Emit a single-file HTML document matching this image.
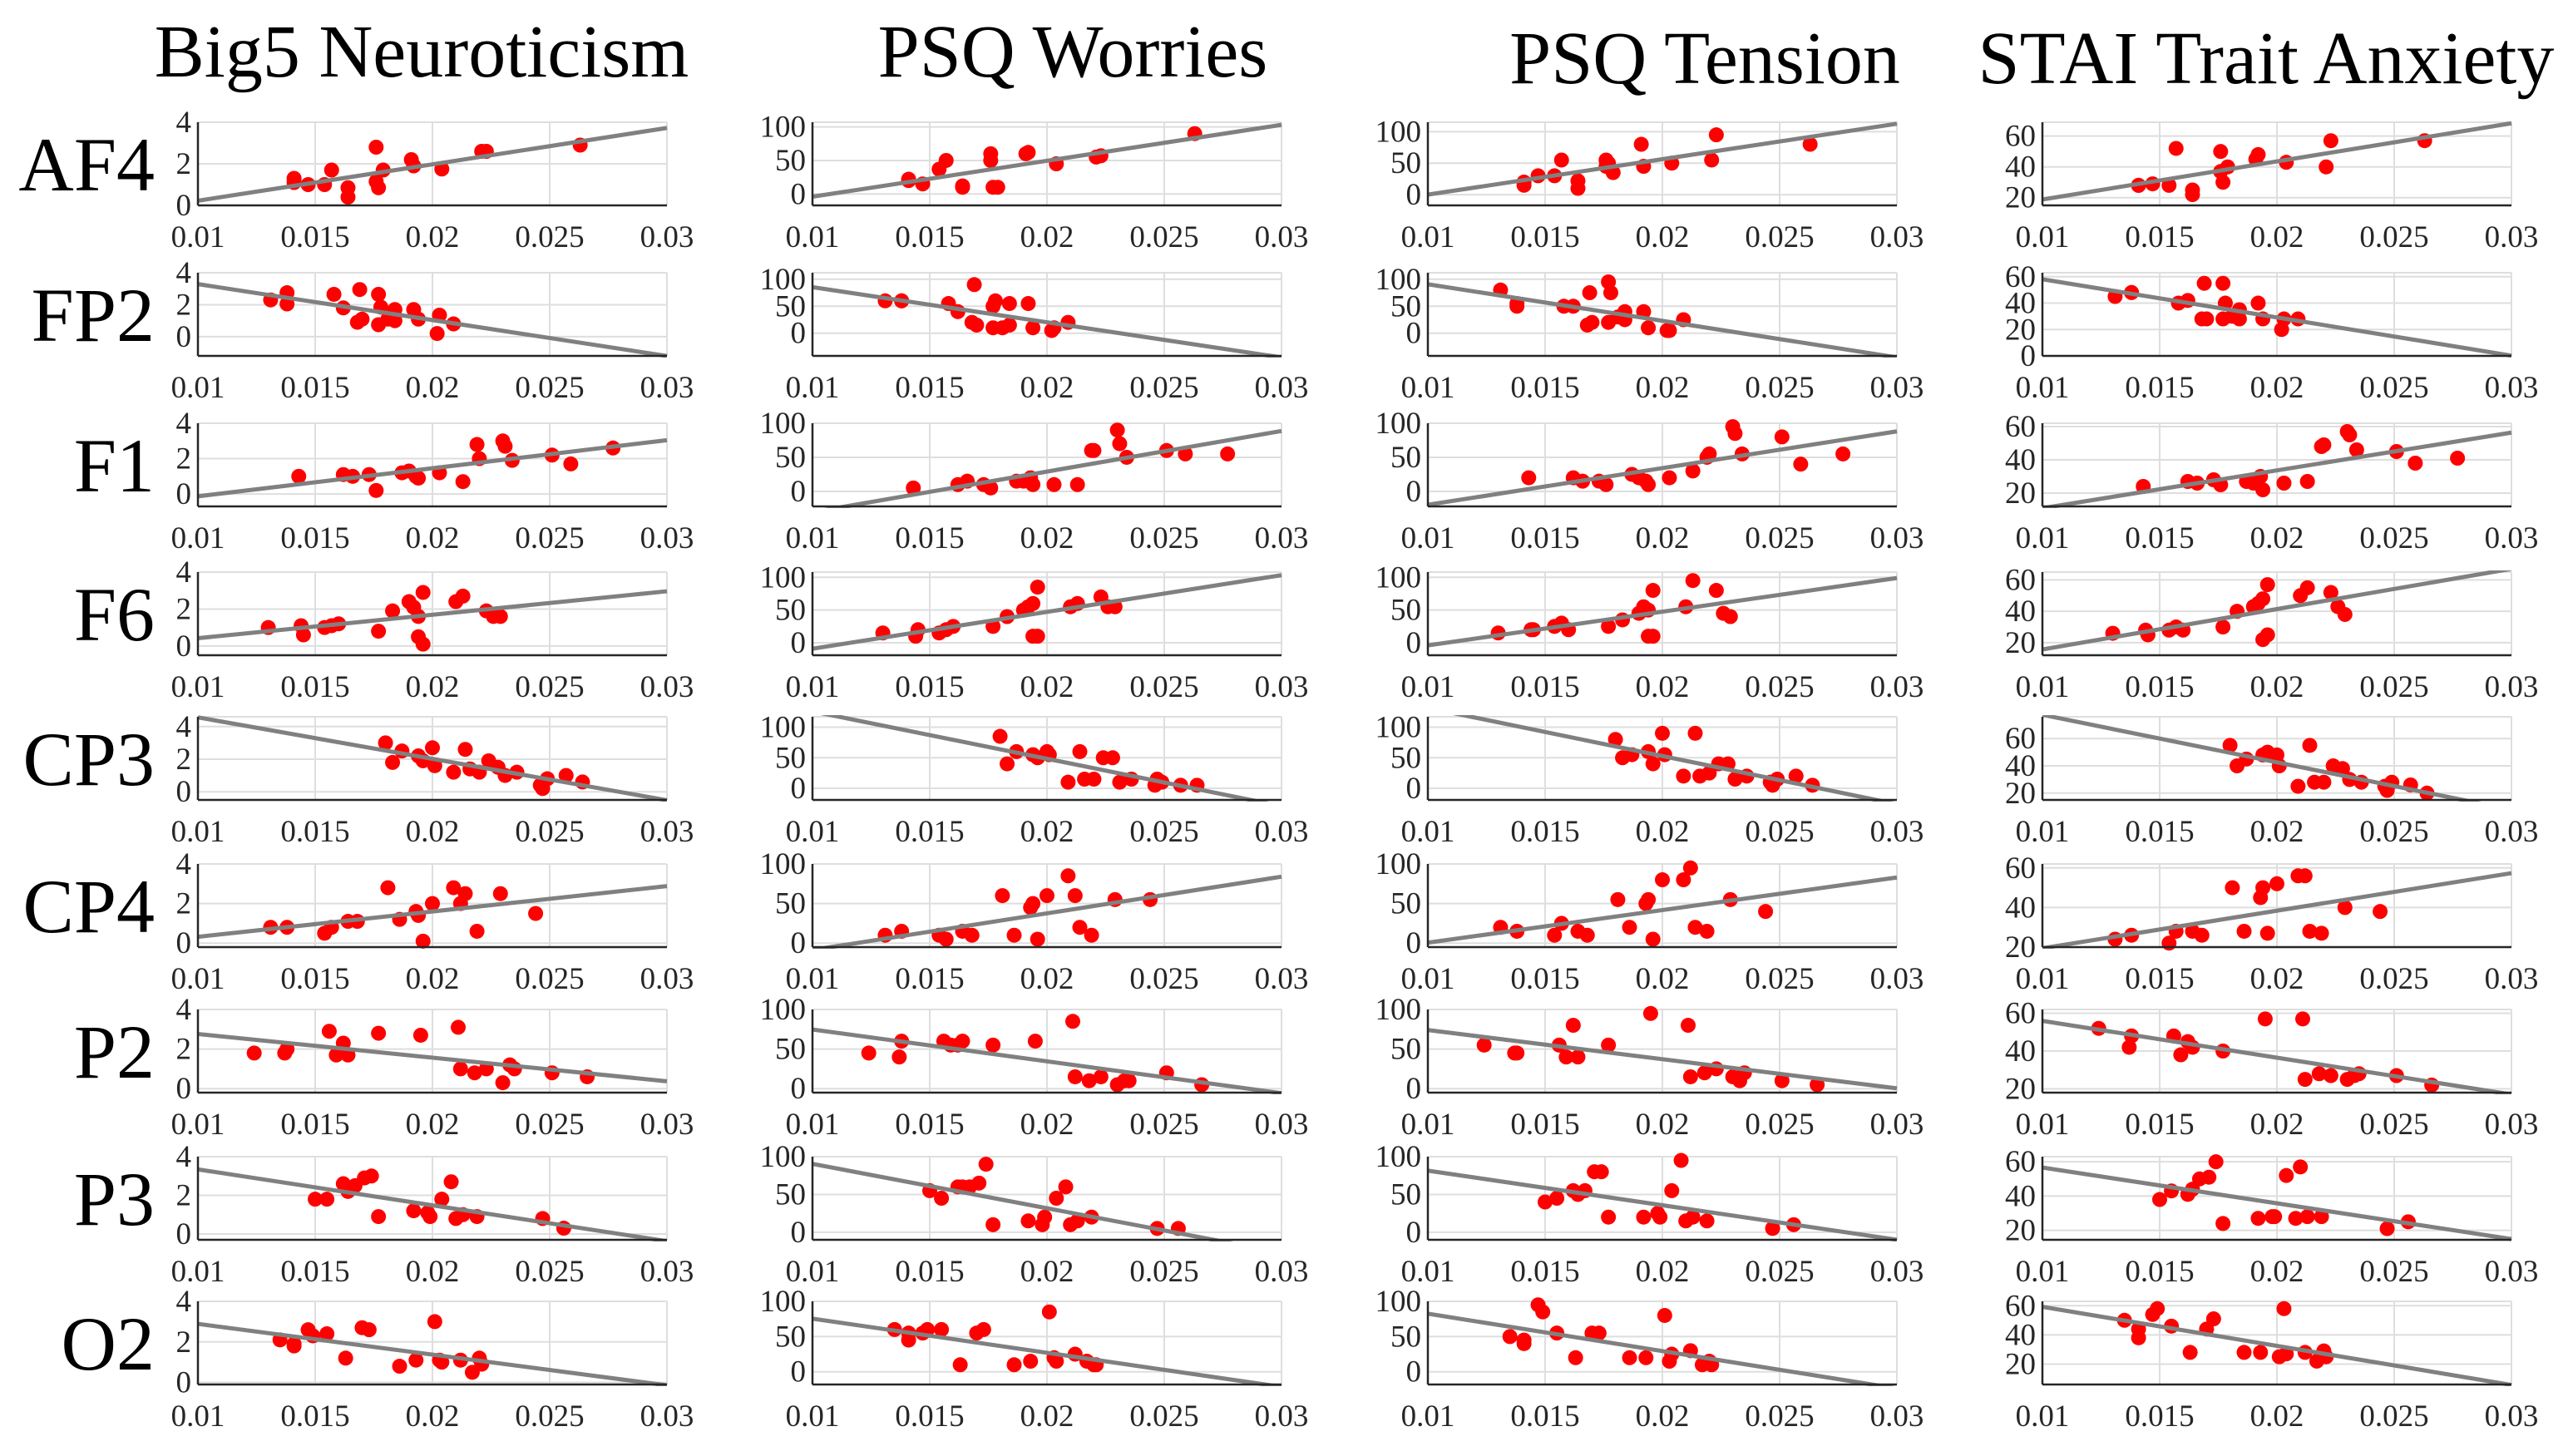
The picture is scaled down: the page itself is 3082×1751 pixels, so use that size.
<!DOCTYPE html>
<html><head><meta charset="utf-8">
<style>
html,body{margin:0;padding:0;background:#fff;}
svg{display:block;font-family:"Liberation Serif",serif;}
</style></head>
<body>
<svg id="fig" width="3082" height="1751" viewBox="0 0 3082 1751" xmlns="http://www.w3.org/2000/svg"></svg>
<script>
// ---- data ----
const colTitles = ["Big5 Neuroticism","PSQ Worries","PSQ Tension","STAI Trait Anxiety"];
const rowNames = ["AF4","FP2","F1","F6","CP3","CP4","P2","P3","O2"];
const xTicks = [0.01,0.015,0.02,0.025,0.03];
const xTickLabels = ["0.01","0.015","0.02","0.025","0.03"];

const xAF4 = [.0141,.0141,.0147,.0157,.0154,.0164,.0164,.0176,.0176,.0177,.0179,.0191,.0192,.0204,.0221,.0223,.0263];
const xFP2 = [.0131,.0138,.0138,.0158,.0162,.0169,.0168,.0170,.0177,.0177,.0178,.0181,.0184,.0184,.0192,.0194,.0203,.0202,.0209];
const xF1  = [.0143,.0162,.0166,.0176,.0173,.0187,.0190,.0194,.0193,.0203,.0213,.0219,.0220,.0230,.0231,.0234,.0251,.0259,.0277];
const xF6  = [.0130,.0144,.0145,.0154,.0157,.0160,.0177,.0183,.0190,.0192,.0196,.0194,.0194,.0196,.0210,.0213,.0223,.0226,.0229];
const xCP3 = [.0180,.0183,.0187,.0194,.0196,.0200,.0201,.0209,.0214,.0216,.0220,.0224,.0228,.0231,.0236,.0246,.0247,.0249,.0257,.0264];
const xCP4 = [.0131,.0138,.0154,.0157,.0164,.0168,.0181,.0186,.0193,.0194,.0196,.0200,.0209,.0212,.0214,.0219,.0229,.0244];
const xP2  = [.0124,.0137,.0138,.0156,.0159,.0162,.0164,.0177,.0195,.0211,.0212,.0218,.0223,.0230,.0233,.0235,.0251,.0266];
const xP3  = [.0150,.0155,.0162,.0164,.0167,.0171,.0174,.0177,.0192,.0198,.0199,.0204,.0208,.0210,.0213,.0219,.0247,.0256];
const xO2  = [.0135,.0141,.0141,.0147,.0149,.0155,.0163,.0170,.0173,.0186,.0193,.0201,.0203,.0204,.0212,.0217,.0220,.0221];

const neuro = [
 [1.3,1.1,1.0,1.7,1.0,0.85,0.4,2.8,1.15,0.85,1.7,2.2,1.9,1.75,2.6,2.6,2.9],
 [2.3,2.75,2.05,2.65,1.8,2.95,0.9,1.1,2.65,0.75,1.85,1.1,1.7,1.0,1.7,1.1,1.35,0.2,0.8],
 [1.0,1.1,1.0,0.2,1.1,1.2,1.3,0.9,1.0,1.2,0.7,2.8,2.0,3.0,2.7,1.9,2.2,1.7,2.6],
 [1.0,1.1,0.6,1.0,1.1,1.2,0.8,1.9,2.4,2.1,2.9,1.6,0.5,0.1,2.4,2.7,1.9,1.6,1.6],
 [3.0,1.8,2.5,2.2,1.9,2.7,1.6,1.2,2.6,1.4,1.2,1.9,1.5,1.0,1.2,0.4,0.2,0.8,1.0,0.6],
 [0.8,0.8,0.5,0.8,1.1,1.1,2.8,1.2,1.6,1.4,0.1,2.0,2.8,2.0,2.5,0.6,2.5,1.5],
 [1.8,1.8,2.0,2.9,1.7,2.3,1.7,2.8,2.7,3.1,1.0,0.8,1.0,0.3,1.2,1.0,0.8,0.6],
 [1.8,1.8,2.6,2.2,2.5,2.9,3.0,0.9,1.2,1.1,0.9,1.8,2.7,0.8,1.0,0.9,0.8,0.3],
 [2.1,1.8,1.9,2.6,2.3,2.4,1.2,2.7,2.6,0.8,1.1,3.0,1.1,1.0,1.1,0.5,1.2,0.9]
];
const worries = [
 [20,22,15,50,37,10,12,60,50,10,10,60,62,45,55,57,90],
 [60,60,60,55,40,90,20,15,50,10,60,10,55,15,55,10,10,5,20],
 [5,10,15,5,10,15,15,10,20,10,10,60,60,90,70,50,60,55,55],
 [15,10,20,15,20,25,25,40,50,55,85,60,10,10,55,60,70,55,55],
 [85,40,60,55,50,60,55,10,60,15,15,50,50,10,15,5,15,10,5,5],
 [10,15,10,5,15,10,60,10,45,50,5,60,85,60,20,10,55,55],
 [45,40,60,60,55,55,60,55,60,85,15,10,15,5,10,10,20,5],
 [55,45,60,60,60,65,90,10,15,10,20,45,60,10,15,20,5,5],
 [60,55,45,55,60,60,10,55,60,10,15,85,20,15,25,15,10,10]
];
const tension = [
 [20,15,30,55,30,10,22,55,45,50,35,80,45,50,55,95,80],
 [80,50,55,50,50,75,15,20,95,20,75,30,40,25,40,10,5,5,25],
 [20,20,15,10,15,25,20,10,15,20,30,50,55,95,85,55,80,40,55],
 [15,20,20,25,30,20,25,35,45,55,80,50,10,10,55,95,80,45,40],
 [80,50,55,60,40,90,55,20,90,20,25,40,40,15,20,10,5,15,20,5],
 [20,15,10,25,15,10,55,20,50,55,5,80,80,95,20,15,55,40],
 [55,45,45,55,40,80,40,55,95,80,15,20,25,15,10,20,10,5],
 [40,45,55,50,55,80,80,20,20,25,20,55,95,15,20,15,5,10],
 [50,45,40,95,85,55,20,55,55,20,20,80,15,25,30,10,15,10]
];
const stai = [
 [28,28,29,52,28,25,22,50,37,30,40,45,48,43,40,57,57],
 [45,48,48,40,42,55,28,28,55,28,40,30,28,35,40,28,28,20,28],
 [24,27,26,25,28,27,26,22,30,26,27,48,49,57,55,46,45,38,41],
 [26,28,25,28,30,28,30,40,43,45,57,48,22,25,50,55,52,43,38],
 [55,40,45,48,50,48,40,25,55,28,28,40,38,30,28,25,22,28,26,20],
 [24,26,22,28,28,26,50,28,45,50,27,52,56,56,28,27,40,38],
 [52,42,48,48,38,45,42,40,57,57,25,28,27,25,27,28,27,22],
 [38,43,41,44,50,51,60,24,27,28,28,52,27,57,28,28,21,25],
 [50,44,38,54,58,46,28,44,51,28,28,25,58,27,28,22,29,25]
];
const xRows = [xAF4,xFP2,xF1,xF6,xCP3,xCP4,xP2,xP3,xO2];
const yCols = [neuro,worries,tension,stai];

const yTicksCol = [[0,2,4],[0,50,100],[0,50,100],[20,40,60]];
const yTicksFP2Stai = [0,20,40,60];
const ylimNeuro  = [[0,4],[-1.2,4],[-0.7,4],[-0.5,4],[-0.5,4.6],[-0.2,4],[-0.2,4],[-0.3,4],[-0.1,4]];
const ylimWorry  = [[-17,107],[-42,112],[-22,100],[-19,108],[-19,117],[-5,100],[-5,100],[-10,100],[-18,100]];
const ylimTension= [[-17,115],[-42,112],[-22,100],[-19,108],[-19,117],[-5,100],[-5,100],[-10,100],[-18,100]];
const ylimStai   = [[15,69],[0,63],[12,62],[12,65],[15,76],[20,62],[18,62],[14.5,63],[6,63]];
const ylims = [ylimNeuro,ylimWorry,ylimTension,ylimStai];

// ---- layout ----
const rowTops = [147,328,509,688,862,1039,1214,1391,1565];
const colX0 = [238,977,1717,2456];
const PW = 564, PH = 100;
const titleX = [507,1290,2050,2725];
const titleY = [92,92,100,100];

const NS = "http://www.w3.org/2000/svg";
const svg = document.getElementById('fig');
function mk(tag, attrs, parent){
  const e = document.createElementNS(NS, tag);
  for (const k in attrs) e.setAttribute(k, attrs[k]);
  (parent||svg).appendChild(e);
  return e;
}
const defs = mk('defs',{});

colTitles.forEach((t,c)=>{
  const el = mk('text',{x:titleX[c],y:titleY[c],'text-anchor':'middle','font-size':90,fill:'#000'});
  
  
  el.textContent = t;
});

rowNames.forEach((r,ri)=>{
  const el = mk('text',{x:186,y:rowTops[ri]+PH/2+32,'text-anchor':'end','font-size':92,fill:'#000'});
  
  
  el.textContent = r;
});

for (let ri=0; ri<rowNames.length; ri++){
  for (let c=0; c<4; c++){
    const x0 = colX0[c], top = rowTops[ri], bot = top+PH;
    const [ymin,ymax] = ylims[c][ri];
    const sx = v => x0 + (v-0.01)/(0.02)*PW;
    const sy = v => bot - (v-ymin)/(ymax-ymin)*PH;
    const g = mk('g',{});
    
    
    xTicks.forEach(t=>{ mk('line',{x1:sx(t),x2:sx(t),y1:top,y2:bot,stroke:'#dedede','stroke-width':2},g); });
    let yt = yTicksCol[c];
    if (c===3 && ri===1) yt = yTicksFP2Stai;
    yt.forEach(t=>{
      if (t<ymin-1e-9 || t>ymax+1e-9) return;
      mk('line',{x1:x0,x2:x0+PW,y1:sy(t),y2:sy(t),stroke:'#dedede','stroke-width':2},g);
      const lb = mk('text',{x:x0-8,y:sy(t)+12,'text-anchor':'end','font-size':37,fill:'#262626'},g);
      
      
      lb.textContent = t;
    });
    mk('line',{x1:x0,x2:x0+PW,y1:top,y2:top,stroke:'#dedede','stroke-width':2},g);
    mk('line',{x1:x0+PW,x2:x0+PW,y1:top,y2:bot,stroke:'#dedede','stroke-width':2},g);
    xTicks.forEach((t,i)=>{
      const lb = mk('text',{x:sx(t),y:bot+50,'text-anchor':'middle','font-size':37,fill:'#262626'},g);
      
      
      lb.textContent = xTickLabels[i];
    });
    const cid = 'clip'+ri+'_'+c;
    const cp = mk('clipPath',{id:cid},defs);
    mk('rect',{x:x0,y:top-2,width:PW+2,height:PH+4},cp);
    const xs = xRows[ri], ys = yCols[c][ri];
    const n = Math.min(xs.length, ys.length);
    for (let i=0;i<n;i++){
      const d = mk('circle',{cx:sx(xs[i]),cy:sy(ys[i]),r:9,fill:'#ff0000'},g);
      
      
    }
    let mx=0,my=0; for(let i=0;i<n;i++){mx+=xs[i];my+=ys[i];} mx/=n; my/=n;
    let sxx=0,sxy=0; for(let i=0;i<n;i++){sxx+=(xs[i]-mx)**2; sxy+=(xs[i]-mx)*(ys[i]-my);}
    const b = sxy/sxx, a = my-b*mx;
    const fl = mk('line',{x1:sx(0.01),y1:sy(a+b*0.01),x2:sx(0.03),y2:sy(a+b*0.03),stroke:'#808080','stroke-width':5,'clip-path':'url(#'+cid+')'},g);
    
    
    mk('line',{x1:x0,x2:x0,y1:top,y2:bot,stroke:'#262626','stroke-width':2.5},g);
    mk('line',{x1:x0,x2:x0+PW,y1:bot,y2:bot,stroke:'#262626','stroke-width':2.5},g);
  }
}
</script>
</body></html>
